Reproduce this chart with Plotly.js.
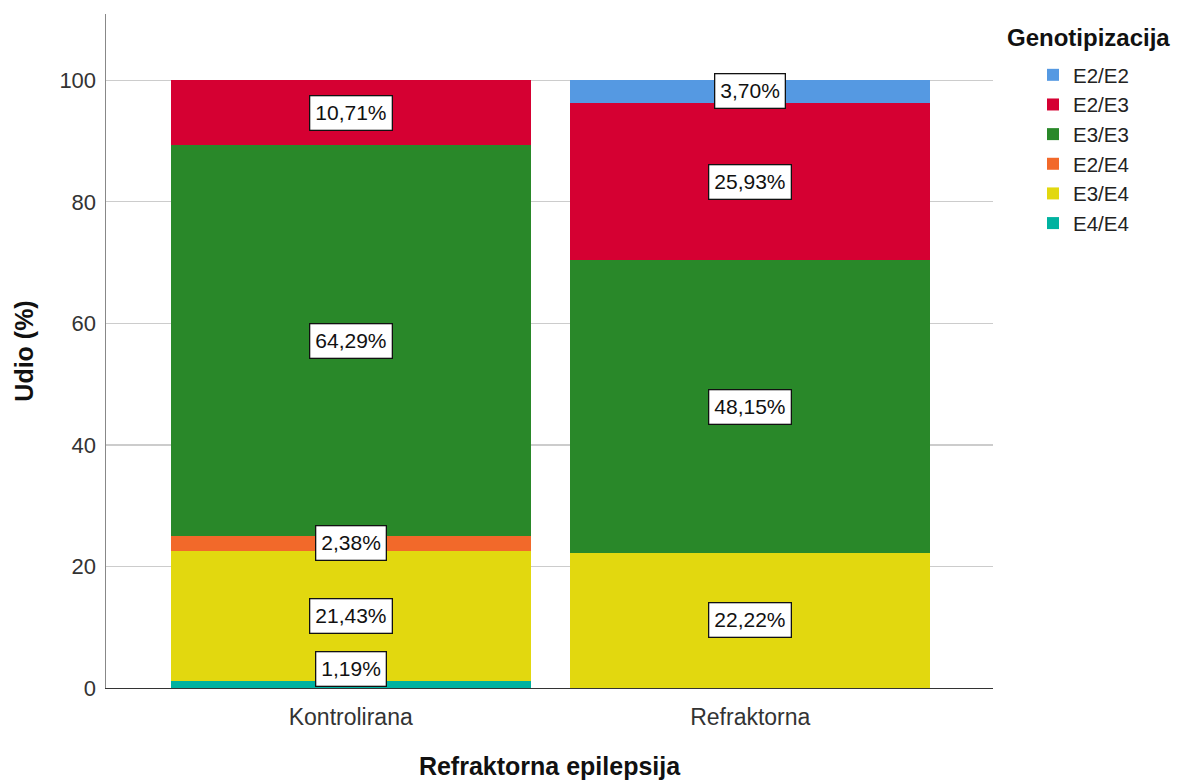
<!DOCTYPE html>
<html>
<head>
<meta charset="utf-8">
<script src="https://cdn.plot.ly/plotly-3.0.1.min.js"></script>
<style>html,body{margin:0;padding:0;background:#fff;}#chart{width:1187px;height:780px;}</style>
</head>
<body>
<div id="chart"></div>
<script>
const categories = ["Kontrolirana", "Refraktorna"];
// series listed bottom to top of the stack
const seriesNames = ["E4/E4", "E3/E4", "E2/E4", "E3/E3", "E2/E3", "E2/E2"];
const seriesColors = ["#00b2a0", "#e2d80f", "#f2692a", "#298829", "#d50032", "#5599e2"];
const valE4E4 = [1.19, 0];
const valE3E4 = [21.43, 22.22];
const valE2E4 = [2.38, 0];
const valE3E3 = [64.29, 48.15];
const valE2E3 = [10.71, 25.93];
const valE2E2 = [0, 3.70];
const seriesValues = [valE4E4, valE3E4, valE2E4, valE3E3, valE2E3, valE2E2];
const yTicks = [0, 20, 40, 60, 80, 100];
const legendTitle = "Genotipizacija";

const font = "Liberation Sans, Arial, sans-serif";
const traces = seriesNames.map((name, i) => ({
  type: "bar",
  name: name,
  x: categories,
  y: seriesValues[i],
  width: 0.9,
  marker: {color: seriesColors[i], line: {width: 0}},
  hoverinfo: "skip"
}));

const annotations = [];
categories.forEach((cat, c) => {
  let base = 0;
  seriesValues.forEach((vals, i) => {
    const v = vals[c];
    if (v > 0) {
      const mid = base + v / 2;
      const low = mid < 3;
      annotations.push({
        x: cat, y: low ? 0 : mid, xref: "x", yref: "y",
        yanchor: low ? "bottom" : "middle",
        yshift: low ? 1 : 0,
        text: v.toFixed(2).replace(".", ",") + "%",
        showarrow: false,
        font: {family: font, size: 21, color: "#111"},
        bgcolor: "#ffffff", bordercolor: "#111", borderwidth: 1.3, borderpad: 5
      });
    }
    base += v;
  });
});
const L = 106, R = 194, T = 14, B = 92, W = 1187, H = 780;
annotations.push({
  x: (1005 - L) / (W - L - R), xref: "paper", xanchor: "left",
  y: 1 - (37 - T) / (H - T - B), yref: "paper", yanchor: "middle",
  text: "<b>" + legendTitle + "</b>", showarrow: false,
  font: {family: font, size: 24, color: "#111"}
});

const layout = {
  width: W, height: H,
  margin: {l: L, r: R, t: T, b: B},
  paper_bgcolor: "#fff", plot_bgcolor: "#fff",
  barmode: "stack",
  showlegend: true,
  font: {family: font, color: "#222"},
  xaxis: {
    type: "category", range: [-0.6125, 1.6075],
    showline: true, linecolor: "#333", linewidth: 1.2,
    ticks: "", showgrid: false, zeroline: false,
    ticklabelstandoff: 8,
    tickfont: {family: font, size: 23, color: "#333"},
    title: {text: "Refraktorna epilepsija", font: {family: font, size: 25, color: "#111", weight: "bold"}, standoff: 30}
  },
  yaxis: {
    range: [0, 110.9], tickvals: yTicks, ticktext: yTicks.map(String),
    showline: true, linecolor: "#888", linewidth: 1.5,
    showgrid: true, gridcolor: "#cccccc", gridwidth: 1.3,
    ticks: "", zeroline: false,
    ticklabelstandoff: 4,
    tickfont: {family: font, size: 22, color: "#333"},
    title: {text: "Udio (%)", font: {family: font, size: 25, color: "#111", weight: "bold"}, standoff: 18}
  },
  legend: {
    traceorder: "reversed",
    x: (1033 - L) / (W - L - R), xanchor: "left",
    y: 1 - (55 - T) / (H - T - B), yanchor: "top",
    font: {family: font, size: 20.5, color: "#222"},
    itemwidth: 30, tracegroupgap: 0
  },
  annotations: annotations
};

Plotly.newPlot("chart", traces, layout, {displayModeBar: false, staticPlot: true});
</script>
</body>
</html>
